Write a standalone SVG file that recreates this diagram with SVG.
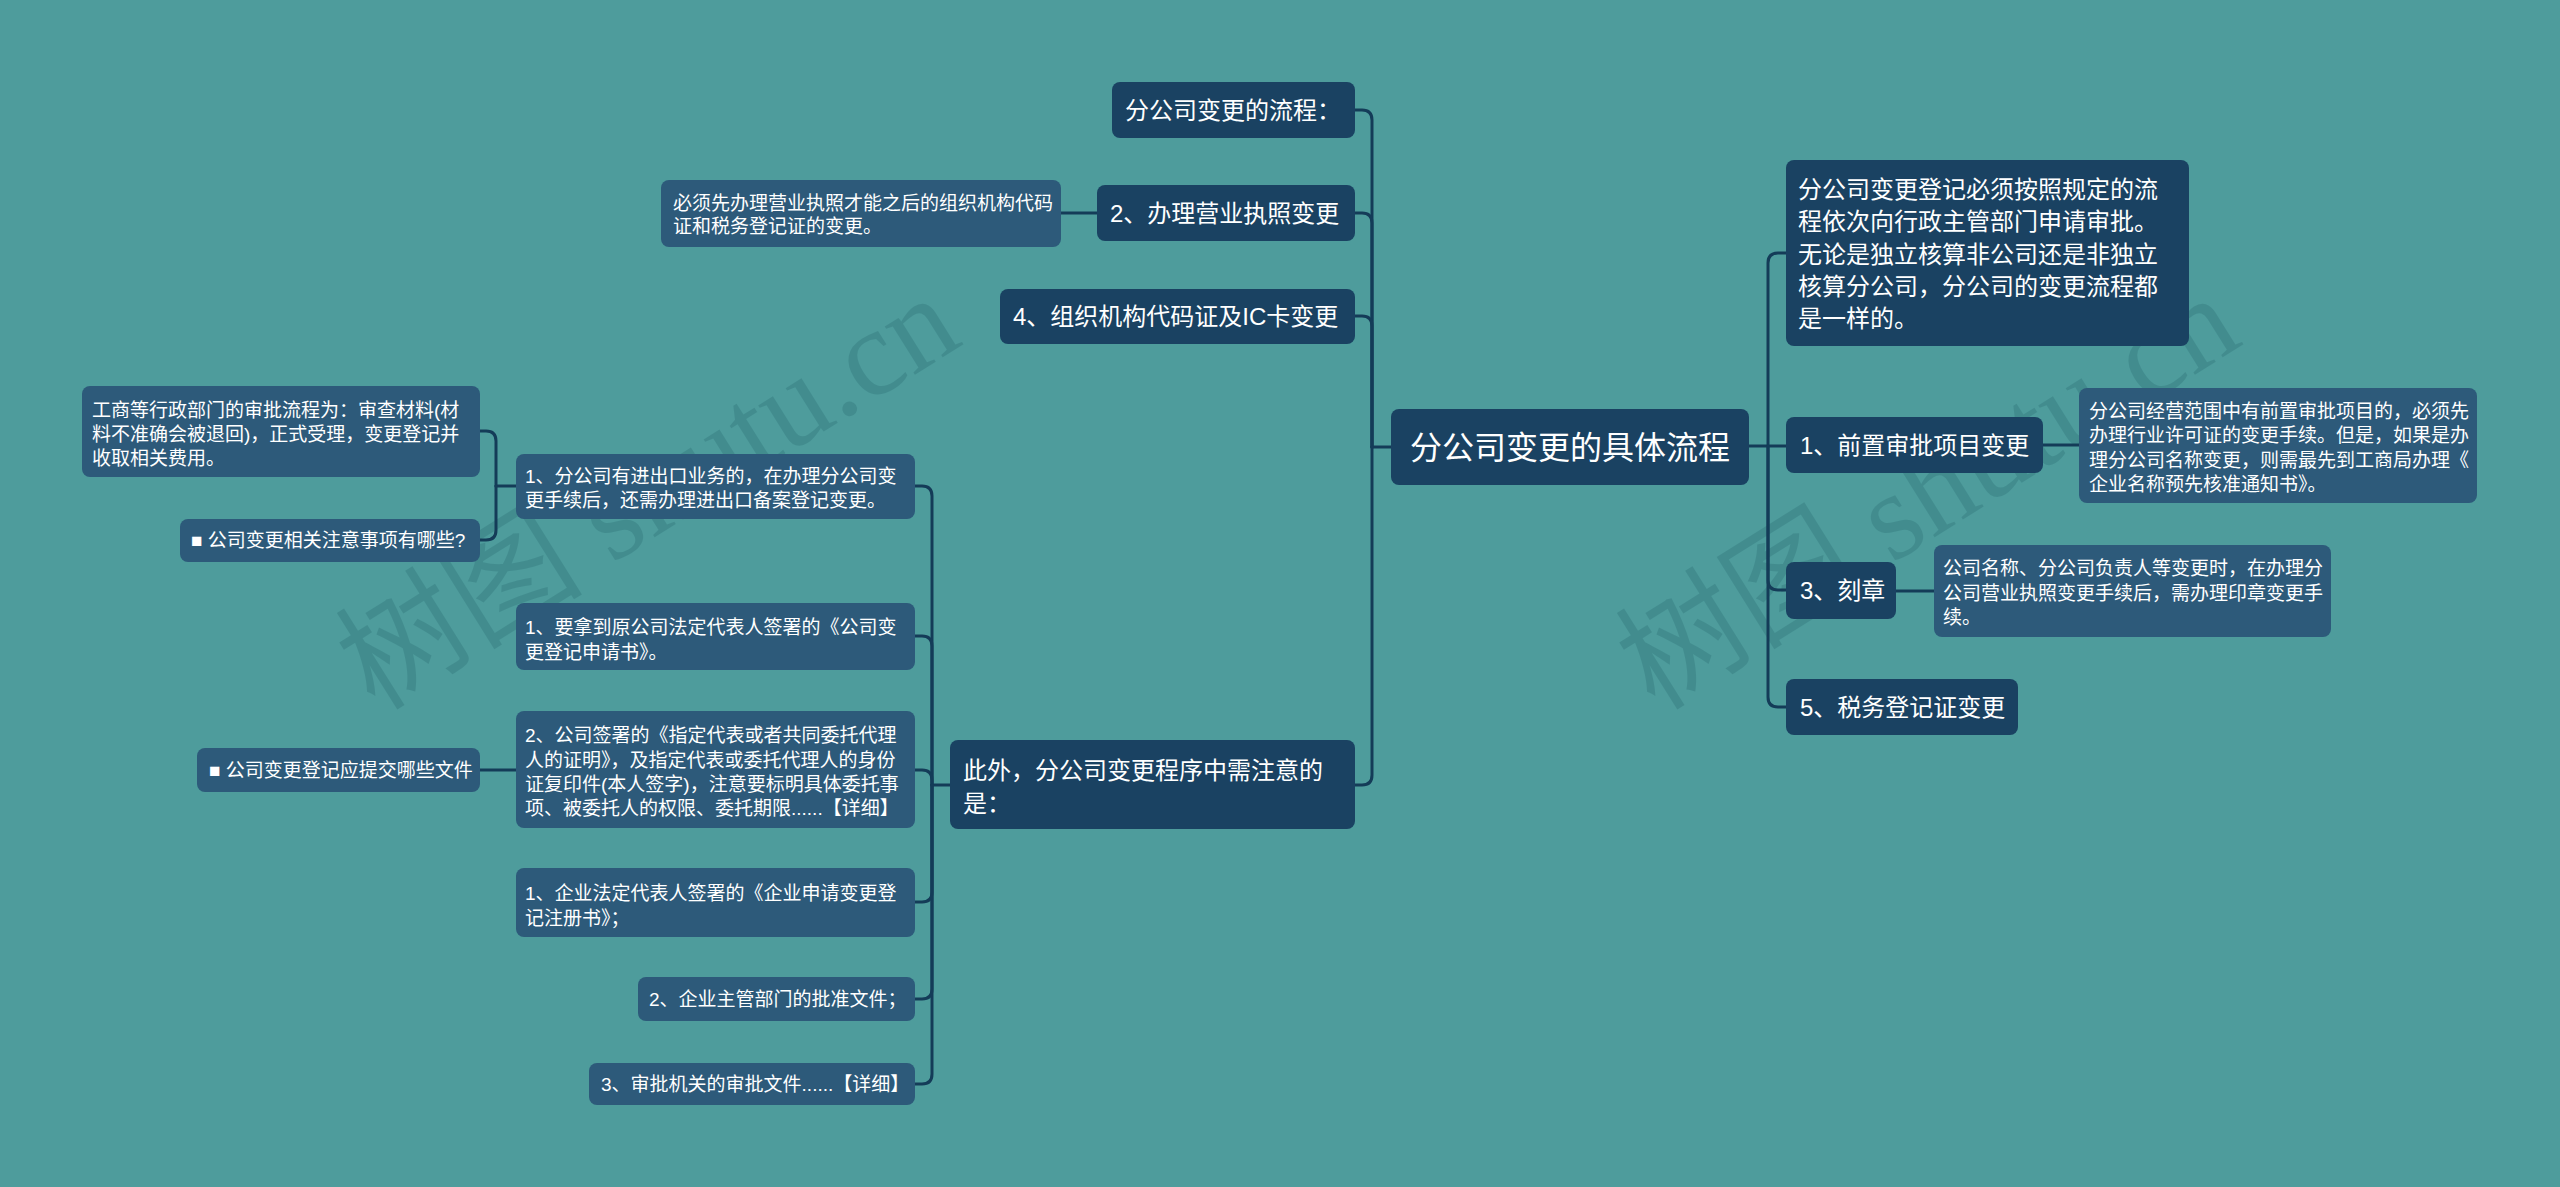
<svg xmlns="http://www.w3.org/2000/svg" width="2560" height="1187" viewBox="0 0 2560 1187">
<style>
.bg{fill:#4E9C9C}
.wm{font-family:"Liberation Serif","Noto Sans CJK SC",serif;font-size:124px;fill:#1E5E66;opacity:0.24}
.dk{fill:#1A4262}
.lt{fill:#2D5A7A}
.t{font-family:"Liberation Sans","Noto Sans CJK SC",sans-serif;fill:#FFFFFF}
.f32{font-size:32px}
.f24{font-size:24px}
.f19{font-size:19px}
.cn{fill:none;stroke:#143C58;stroke-width:3;stroke-linecap:round;stroke-linejoin:round}
</style>
<rect class="bg" x="0" y="0" width="2560" height="1187"/>
<g id="watermarks">
<text class="wm" x="375" y="712" transform="rotate(-32 375 712)">树图 shutu.cn</text>
<text class="wm" x="1655" y="712" transform="rotate(-32 1655 712)">树图 shutu.cn</text>
</g>
<g id="connectors">
<path class="cn" d="M1749 446 H1786"/>
<path class="cn" d="M1768 446 V263 Q1768 253 1778 253 H1786"/>
<path class="cn" d="M1768 446 V580 Q1768 590 1778 590 H1786"/>
<path class="cn" d="M1768 446 V697 Q1768 707 1778 707 H1786"/>
<path class="cn" d="M2043 445 H2079"/>
<path class="cn" d="M1896 591 H1934"/>
<path class="cn" d="M1391 447 H1372"/>
<path class="cn" d="M1372 447 V120 Q1372 110 1362 110 H1355"/>
<path class="cn" d="M1372 447 V223 Q1372 213 1362 213 H1355"/>
<path class="cn" d="M1372 447 V326 Q1372 316 1362 316 H1355"/>
<path class="cn" d="M1372 447 V775 Q1372 785 1362 785 H1355"/>
<path class="cn" d="M1097 213 H1061"/>
<path class="cn" d="M950 785 H932"/>
<path class="cn" d="M932 785 V496 Q932 486 922 486 H915"/>
<path class="cn" d="M932 785 V646 Q932 636 922 636 H915"/>
<path class="cn" d="M932 785 V780 Q932 770 922 770 H915"/>
<path class="cn" d="M932 785 V892 Q932 902 922 902 H915"/>
<path class="cn" d="M932 785 V989 Q932 999 922 999 H915"/>
<path class="cn" d="M932 785 V1074 Q932 1084 922 1084 H915"/>
<path class="cn" d="M516 486 H496"/>
<path class="cn" d="M496 486 V441 Q496 431 486 431 H480"/>
<path class="cn" d="M496 486 V530 Q496 540 486 540 H480"/>
<path class="cn" d="M516 770 H480"/>
</g>
<g id="root">
<rect class="dk" x="1391" y="409" width="358" height="76" rx="8"/>
<text class="t f32" x="1570" y="459" text-anchor="middle">分公司变更的具体流程</text>
</g>
<g id="r1">
<rect class="dk" x="1786" y="160" width="403" height="186" rx="8"/>
<text class="t f24"><tspan x="1798" y="198">分公司变更登记必须按照规定的流</tspan><tspan x="1798" y="230">程依次向行政主管部门申请审批。</tspan><tspan x="1798" y="263">无论是独立核算非公司还是非独立</tspan><tspan x="1798" y="295">核算分公司，分公司的变更流程都</tspan><tspan x="1798" y="327">是一样的。</tspan></text>
</g>
<g id="r2">
<rect class="dk" x="1786" y="417" width="257" height="56" rx="8"/>
<text class="t f24" x="1800" y="454">1、前置审批项目变更</text>
</g>
<g id="r2c">
<rect class="lt" x="2079" y="388" width="398" height="115" rx="8"/>
<text class="t f19"><tspan x="2089" y="418">分公司经营范围中有前置审批项目的，必须先</tspan><tspan x="2089" y="442">办理行业许可证的变更手续。但是，如果是办</tspan><tspan x="2089" y="467">理分公司名称变更，则需最先到工商局办理《</tspan><tspan x="2089" y="491">企业名称预先核准通知书》。</tspan></text>
</g>
<g id="r3">
<rect class="dk" x="1786" y="562" width="110" height="57" rx="8"/>
<text class="t f24" x="1800" y="599">3、刻章</text>
</g>
<g id="r3c">
<rect class="lt" x="1934" y="545" width="397" height="92" rx="8"/>
<text class="t f19"><tspan x="1943" y="575">公司名称、分公司负责人等变更时，在办理分</tspan><tspan x="1943" y="600">公司营业执照变更手续后，需办理印章变更手</tspan><tspan x="1943" y="624">续。</tspan></text>
</g>
<g id="r4">
<rect class="dk" x="1786" y="679" width="232" height="56" rx="8"/>
<text class="t f24" x="1800" y="716">5、税务登记证变更</text>
</g>
<g id="l1">
<rect class="dk" x="1112" y="82" width="243" height="56" rx="8"/>
<text class="t f24" x="1125" y="119">分公司变更的流程：</text>
</g>
<g id="l2">
<rect class="dk" x="1097" y="185" width="258" height="56" rx="8"/>
<text class="t f24" x="1110" y="222">2、办理营业执照变更</text>
</g>
<g id="l2c">
<rect class="lt" x="661" y="180" width="400" height="67" rx="8"/>
<text class="t f19"><tspan x="673" y="210">必须先办理营业执照才能之后的组织机构代码</tspan><tspan x="673" y="233">证和税务登记证的变更。</tspan></text>
</g>
<g id="l3">
<rect class="dk" x="1000" y="289" width="355" height="55" rx="8"/>
<text class="t f24" x="1013" y="325">4、组织机构代码证及IC卡变更</text>
</g>
<g id="l4">
<rect class="dk" x="950" y="740" width="405" height="89" rx="8"/>
<text class="t f24"><tspan x="963" y="779">此外，分公司变更程序中需注意的</tspan><tspan x="963" y="812">是：</tspan></text>
</g>
<g id="a">
<rect class="lt" x="516" y="454" width="399" height="65" rx="8"/>
<text class="t f19"><tspan x="525" y="483">1、分公司有进出口业务的，在办理分公司变</tspan><tspan x="525" y="507">更手续后，还需办理进出口备案登记变更。</tspan></text>
</g>
<g id="a1">
<rect class="lt" x="82" y="386" width="398" height="91" rx="8"/>
<text class="t f19"><tspan x="92" y="417">工商等行政部门的审批流程为：审查材料(材</tspan><tspan x="92" y="441">料不准确会被退回)，正式受理，变更登记并</tspan><tspan x="92" y="465">收取相关费用。</tspan></text>
</g>
<g id="a2">
<rect class="lt" x="180" y="519" width="300" height="43" rx="8"/>
<text class="t f19" x="191" y="547">■ 公司变更相关注意事项有哪些?</text>
</g>
<g id="b">
<rect class="lt" x="516" y="603" width="399" height="67" rx="8"/>
<text class="t f19"><tspan x="525" y="634">1、要拿到原公司法定代表人签署的《公司变</tspan><tspan x="525" y="659">更登记申请书》。</tspan></text>
</g>
<g id="c">
<rect class="lt" x="516" y="711" width="399" height="117" rx="8"/>
<text class="t f19"><tspan x="525" y="742">2、公司签署的《指定代表或者共同委托代理</tspan><tspan x="525" y="767">人的证明》，及指定代表或委托代理人的身份</tspan><tspan x="525" y="791">证复印件(本人签字)，注意要标明具体委托事</tspan><tspan x="525" y="815">项、被委托人的权限、委托期限......【详细】</tspan></text>
</g>
<g id="c1">
<rect class="lt" x="197" y="748" width="283" height="44" rx="8"/>
<text class="t f19" x="209" y="777">■ 公司变更登记应提交哪些文件</text>
</g>
<g id="d">
<rect class="lt" x="516" y="868" width="399" height="69" rx="8"/>
<text class="t f19"><tspan x="525" y="900">1、企业法定代表人签署的《企业申请变更登</tspan><tspan x="525" y="925">记注册书》；</tspan></text>
</g>
<g id="e">
<rect class="lt" x="638" y="977" width="277" height="44" rx="8"/>
<text class="t f19" x="649" y="1006">2、企业主管部门的批准文件；</text>
</g>
<g id="f">
<rect class="lt" x="589" y="1063" width="326" height="42" rx="8"/>
<text class="t f19" x="601" y="1091">3、审批机关的审批文件......【详细】</text>
</g>
</svg>
